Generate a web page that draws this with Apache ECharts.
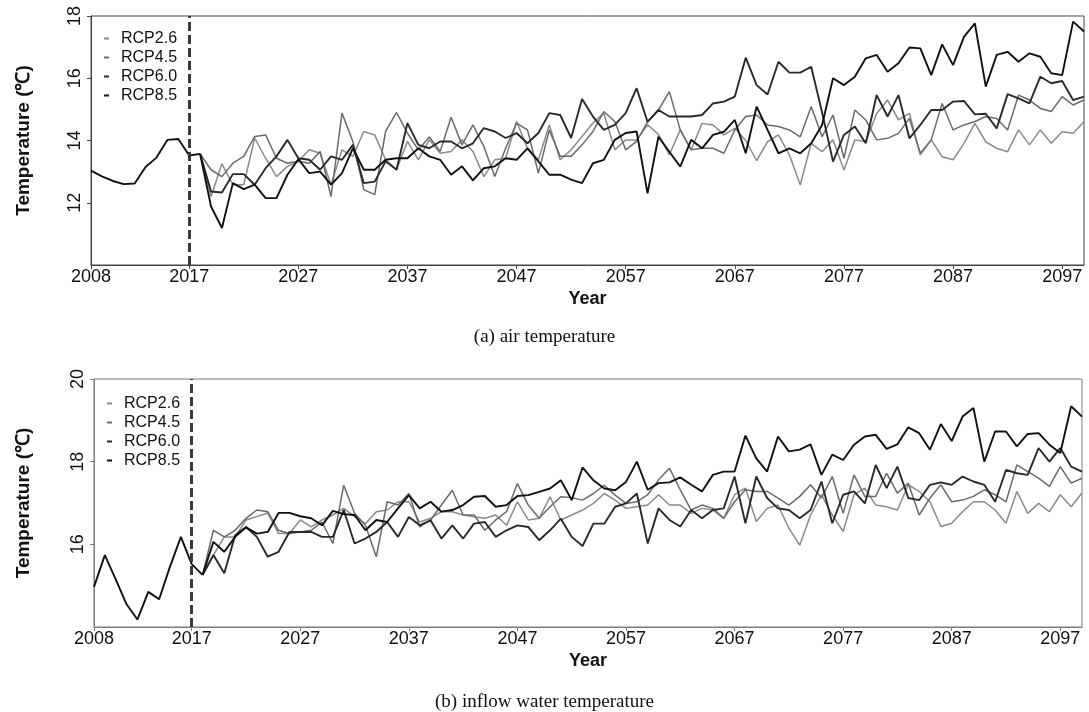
<!DOCTYPE html>
<html><head><meta charset="utf-8">
<script src="https://cdn.jsdelivr.net/npm/echarts@6/dist/echarts.min.js"></script>
<style>html,body{margin:0;padding:0;background:#fff}#c{width:1089px;height:712px}</style>
</head><body><div id="c"></div>
<script>
// ---- data ----
const histStart = 2008;
const futureStart = 2018;
const scenarioNames = ['RCP2.6', 'RCP4.5', 'RCP6.0', 'RCP8.5'];
const xTickYears = [2008, 2017, 2027, 2037, 2047, 2057, 2067, 2077, 2087, 2097];
const baseYear = 2017;

// (a) air temperature
const airObserved = [13.03, 12.85, 12.7, 12.6, 12.62, 13.15, 13.45, 14.02, 14.05, 13.52, 13.57];
const airRCP26 = [13.57,12.20,13.25,12.58,12.58,14.08,13.43,12.84,13.17,13.33,
  13.70,13.59,12.58,13.70,13.49,14.29,14.18,13.38,13.06,13.97,
  13.38,14.02,13.59,13.65,14.02,13.65,12.84,13.38,13.43,14.61,
  13.75,13.38,14.50,13.38,13.70,14.13,14.56,14.88,13.70,14.02,
  14.02,14.50,14.20,13.54,14.34,13.70,14.55,14.50,14.18,14.39,
  14.00,13.35,13.96,14.18,13.54,12.57,13.91,13.64,14.02,13.05,
  14.02,13.96,14.87,15.30,14.66,14.87,13.54,14.02,13.48,13.38,
  13.91,14.55,13.96,13.75,13.64,14.34,13.86,14.34,13.91,14.28,
  14.23,14.60];
const airRCP45 = [13.57,13.06,12.84,13.27,13.49,14.13,14.18,13.43,13.27,13.33,
  13.27,13.65,12.20,14.88,13.97,12.42,12.26,14.29,14.90,14.24,
  13.70,14.11,13.65,14.75,13.86,14.50,13.81,12.84,13.75,14.56,
  14.34,12.95,14.34,13.49,13.49,13.86,14.29,14.93,14.61,13.70,
  13.97,14.60,14.98,15.57,14.34,13.70,13.75,13.75,13.59,14.34,
  14.77,14.82,14.50,14.45,14.34,14.12,15.09,14.12,14.82,13.43,
  14.98,14.66,14.02,14.07,14.23,14.71,13.59,14.02,15.19,14.34,
  14.50,14.61,14.77,14.71,14.34,15.46,15.30,15.03,14.93,15.41,
  15.14,15.30];
const airRCP60 = [13.57,12.36,12.33,12.92,12.92,12.58,13.11,13.49,14.02,13.43,
  13.38,13.06,13.49,13.38,13.86,12.63,12.68,13.33,13.06,14.56,
  13.86,13.75,13.97,13.97,13.75,13.91,14.40,14.29,14.08,14.24,
  13.91,14.24,14.88,14.82,14.08,15.33,14.77,14.34,14.50,14.88,
  15.68,14.60,14.98,14.77,14.77,14.77,14.82,15.19,15.25,15.41,
  16.66,15.78,15.48,16.53,16.18,16.18,16.37,14.90,13.32,14.18,
  14.45,13.91,15.46,14.77,15.46,14.07,14.50,14.98,14.98,15.25,
  15.27,14.84,14.86,14.39,15.49,15.35,15.19,16.05,15.84,15.91,
  15.30,15.41];
const airRCP85 = [13.57,11.88,11.19,12.63,12.44,12.58,12.15,12.15,12.90,13.40,
  12.95,13.00,12.58,12.95,13.75,13.06,13.06,13.38,13.43,13.43,
  13.75,13.49,13.38,12.90,13.17,12.72,13.11,13.17,13.43,13.38,
  13.75,13.33,12.90,12.90,12.74,12.63,13.27,13.38,14.02,14.24,
  14.29,12.30,14.12,13.64,13.16,14.02,13.75,14.18,14.28,14.66,
  13.59,15.09,14.34,13.59,13.75,13.59,13.91,14.50,16.00,15.78,
  16.05,16.64,16.75,16.21,16.48,16.99,16.96,16.10,17.09,16.42,
  17.33,17.76,15.73,16.75,16.85,16.53,16.80,16.69,16.16,16.10,
  17.82,17.50];

// (b) inflow water temperature
const waterObserved = [14.97, 15.74, 15.15, 14.55, 14.18, 14.85, 14.67, 15.46, 16.18, 15.52, 15.26];
const waterRCP26 = [15.26,15.74,16.18,16.18,16.59,16.67,16.76,16.26,16.26,16.59,
  16.42,16.59,16.71,16.87,16.67,16.50,16.79,16.83,17.03,17.03,
  16.54,16.63,16.79,16.79,16.71,16.67,16.63,16.71,16.46,17.03,
  16.59,16.63,17.15,16.59,16.71,16.83,16.99,17.23,17.07,16.87,
  16.91,16.95,17.20,16.95,16.95,16.75,16.87,16.83,16.63,17.20,
  17.36,16.55,16.87,16.95,16.39,15.98,16.71,17.20,16.71,16.31,
  17.20,17.36,16.95,16.91,16.83,17.44,17.28,17.03,16.43,16.51,
  16.79,17.03,17.03,16.83,16.51,17.28,16.75,16.99,16.79,17.20,
  16.91,17.24];
const waterRCP45 = [15.26,16.34,16.18,16.34,16.63,16.83,16.79,16.34,16.26,16.30,
  16.34,16.54,16.02,17.43,16.75,16.46,15.70,17.03,16.95,17.23,
  16.42,16.59,16.95,17.31,16.71,16.71,16.34,16.59,16.79,17.47,
  16.95,16.63,16.91,17.15,17.13,17.07,17.23,17.43,17.19,16.99,
  17.03,17.20,17.56,17.84,17.32,16.83,16.95,16.87,16.63,17.03,
  17.32,17.28,17.28,17.12,16.95,17.16,17.44,17.12,17.64,16.75,
  17.68,17.16,17.16,17.72,17.24,17.48,16.71,17.12,17.44,17.03,
  17.07,17.16,17.32,17.20,17.03,17.92,17.76,17.60,17.40,17.88,
  17.48,17.60];
const waterRCP60 = [15.26,15.74,15.30,16.22,16.42,16.18,15.70,15.82,16.30,16.30,
  16.30,16.18,16.18,16.83,16.02,16.14,16.30,16.54,16.18,16.66,
  16.46,16.58,16.14,16.46,16.14,16.50,16.54,16.18,16.34,16.46,
  16.42,16.10,16.34,16.62,16.18,15.96,16.50,16.50,16.91,16.99,
  17.23,16.02,16.87,16.59,16.43,16.83,16.63,16.83,16.87,17.64,
  16.51,17.64,17.12,16.87,16.83,16.63,16.83,17.52,16.51,17.20,
  17.28,16.99,17.92,17.36,17.88,17.12,17.07,17.44,17.50,17.44,
  17.64,17.52,17.44,17.03,17.80,17.72,17.68,18.33,18.00,18.33,
  17.88,17.76];
const waterRCP85 = [15.26,16.06,15.82,16.18,16.41,16.26,16.30,16.76,16.76,16.68,
  16.63,16.46,16.81,16.73,16.71,16.34,16.59,16.54,16.87,17.19,
  16.87,17.03,16.79,16.83,16.95,17.15,17.17,16.91,16.95,17.17,
  17.19,17.27,17.35,17.55,17.07,17.86,17.55,17.35,17.31,17.51,
  18.00,17.32,17.48,17.50,17.62,17.44,17.28,17.68,17.76,17.76,
  18.63,18.08,17.76,18.61,18.25,18.29,18.42,17.68,18.17,18.04,
  18.41,18.61,18.65,18.31,18.42,18.83,18.69,18.29,18.91,18.50,
  19.09,19.30,18.00,18.73,18.73,18.37,18.67,18.69,18.41,18.21,
  19.34,19.09];

// ---- styles ----
const scenarioColors = ['#8a8a8a', '#6a6a6a', '#2a2a2a', '#111111'];
const scenarioWidths = [1.5, 1.5, 1.9, 1.9];
const sans = 'Liberation Sans';

function pairs(start, vals) { return vals.map((v, i) => [start + i, v]); }

const airSets = [airRCP26, airRCP45, airRCP60, airRCP85];
const waterSets = [waterRCP26, waterRCP45, waterRCP60, waterRCP85];

function panelSeries(idx, observed, sets) {
  const out = [{
    name: 'Observed', type: 'line', xAxisIndex: idx, yAxisIndex: idx,
    data: pairs(histStart, observed), showSymbol: false, symbol: 'none',
    lineStyle: { color: '#111', width: 1.9 }, itemStyle: { color: '#111' }, z: 3,
    markLine: {
      silent: true, symbol: ['none', 'none'], label: { show: false },
      lineStyle: { type: [9, 4], width: 3, color: '#3a3a3a' },
      emphasis: { disabled: true },
      data: [{ xAxis: baseYear }]
    }
  }];
  sets.forEach((vals, k) => {
    out.push({
      name: scenarioNames[k], type: 'line', xAxisIndex: idx, yAxisIndex: idx,
      data: pairs(futureStart, vals), showSymbol: false, symbol: 'none',
      lineStyle: { color: scenarioColors[k], width: scenarioWidths[k] },
      itemStyle: { color: scenarioColors[k] }, z: 2 + k * 0.1
    });
  });
  return out;
}

function xAxisOf(idx, lineColor) {
  return {
    gridIndex: idx, type: 'value', min: 2008, max: 2099,
    axisLine: { show: true, lineStyle: { color: lineColor, width: 1 } },
    axisTick: { show: true, length: 4, customValues: xTickYears, lineStyle: { color: lineColor } },
    axisLabel: { customValues: xTickYears, formatter: v => String(v), fontSize: 18, margin: 3, color: '#111', fontFamily: sans },
    splitLine: { show: false },
    name: 'Year', nameLocation: 'middle', nameGap: 25,
    nameTextStyle: { fontSize: 18, fontWeight: 'bold', color: '#111', fontFamily: sans }
  };
}
function yAxisOf(idx, min, max, lineColor, gap) {
  return {
    gridIndex: idx, type: 'value', min: min, max: max, interval: 2,
    axisLine: { show: true, lineStyle: { color: lineColor, width: 1 } },
    axisTick: { show: true, length: 4, lineStyle: { color: lineColor } },
    axisLabel: { rotate: 90, showMinLabel: false, fontSize: 18, margin: 7, color: '#111', fontFamily: sans },
    splitLine: { show: false },
    name: 'Temperature (℃)', nameLocation: 'middle', nameGap: gap,
    nameTextStyle: { fontSize: 19, fontWeight: 'bold', color: '#111', fontFamily: sans }
  };
}
function legendOf(left, top) {
  return {
    orient: 'vertical', left: left, top: top, icon: 'rect', itemWidth: 5, itemHeight: 2,
    itemGap: 2, selectedMode: false, padding: 0,
    textStyle: { fontSize: 16, lineHeight: 17, color: '#111', fontFamily: sans, padding: [0, 0, 0, 7] },
    data: scenarioNames
  };
}

const chart = echarts.init(document.getElementById('c'), null, { renderer: 'canvas' });
chart.setOption({
  animation: false,
  backgroundColor: '#fff',
  title: [
    { text: '(a) air temperature', left: 'center', top: 328, padding: 0,
      textStyle: { fontFamily: 'Liberation Serif', fontSize: 19, fontWeight: 'normal', color: '#111' } },
    { text: '(b) inflow water temperature', left: 'center', top: 693, padding: 0,
      textStyle: { fontFamily: 'Liberation Serif', fontSize: 19, fontWeight: 'normal', color: '#111' } }
  ],
  legend: [legendOf(104, 30), legendOf(107, 395)],
  grid: [
    { left: 91, top: 16, width: 993, height: 249, show: true, borderColor: '#444', borderWidth: 1 },
    { left: 94, top: 379, width: 988, height: 248, show: true, borderColor: '#7a7a7a', borderWidth: 1 }
  ],
  xAxis: [xAxisOf(0, '#444'), xAxisOf(1, '#7a7a7a')],
  yAxis: [yAxisOf(0, 10, 18, '#444', 58), yAxisOf(1, 14, 20, '#7a7a7a', 61)],
  series: panelSeries(0, airObserved, airSets).concat(panelSeries(1, waterObserved, waterSets))
});
</script></body></html>
